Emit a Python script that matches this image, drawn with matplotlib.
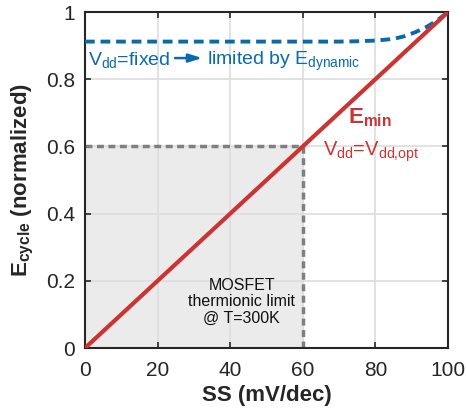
import matplotlib
matplotlib.use("Agg")
import matplotlib.pyplot as plt

fam = "Liberation Sans"
plt.rcParams['font.family'] = [fam, 'DejaVu Sans']
plt.rcParams['mathtext.fontset'] = 'custom'
plt.rcParams['mathtext.rm'] = fam
plt.rcParams['mathtext.it'] = fam
plt.rcParams['mathtext.bf'] = fam + ':bold'

ss = [0, 100]
e_min = [0, 1]
ss_fixed = [0, 20, 40, 60, 70, 75, 80, 85, 88, 91, 94, 97, 100]
e_fixed = [0.912, 0.912, 0.912, 0.912, 0.912, 0.913, 0.915, 0.92, 0.928, 0.94, 0.955, 0.975, 1.0]
ss_limit = 60
e_limit = 0.6
xticks = [0, 20, 40, 60, 80, 100]
yticks = [0, 0.2, 0.4, 0.6, 0.8, 1]

fig = plt.figure(figsize=(4.66, 4.15), dpi=100)
ax = fig.add_axes([0.1824, 0.1614, 0.779, 0.8096])
blue = '#0A6AAE'
red = '#CC3333'
gray = '#7F7F7F'
dark = '#262626'

ax.fill_between([0, ss_limit], 0, e_limit, color='#EBEBEB', zorder=0.5)
ax.plot([0, ss_limit], [e_limit, e_limit], ls=(0, (2, 1.3)), color=gray, lw=2.5, zorder=2)
ax.plot([ss_limit, ss_limit], [0, e_limit], ls=(0, (2, 1.3)), color=gray, lw=2.5, zorder=2)
ax.plot(ss_fixed, e_fixed, ls=(0, (2.5, 1.5)), color=blue, lw=2.8, zorder=3)
ax.plot(ss, e_min, color=red, lw=3, zorder=4)

ax.set_xlim(0, 100)
ax.set_ylim(0, 1)
ax.set_xticks(xticks)
ax.set_yticks(yticks)
ax.set_xticklabels([str(v) for v in xticks])
ax.set_yticklabels(['0', '0.2', '0.4', '0.6', '0.8', '1'])
ax.grid(True, color='#DDDDDD', lw=1.2, zorder=0)
ax.set_axisbelow(True)
ax.tick_params(direction='in', length=4, width=1.2, labelsize=15, colors=dark, labelcolor=dark, top=True, right=True)
ax.tick_params(axis='x', pad=9)
ax.tick_params(axis='y', pad=7)
for s in ax.spines.values():
    s.set_linewidth(1.5)
    s.set_color(dark)

ax.set_xlabel('SS (mV/dec)', fontsize=16, fontweight='bold', color=dark, labelpad=4)
ax.set_ylabel(r'$\mathbf{E_{cycle}}$ (normalized)', fontsize=16, fontweight='bold', color=dark, labelpad=7)

ax.text(0.8, 0.842, r'V$_{\mathrm{dd}}$=fixed', color=blue, fontsize=14, va='baseline', ha='left')
ax.annotate('', xy=(32.3, 0.863), xytext=(24.8, 0.863),
            arrowprops=dict(arrowstyle='-|>,head_length=0.8,head_width=0.25', color=blue, lw=1.8, shrinkA=0, shrinkB=0))
ax.text(33.6, 0.842, r'limited by E$_{\mathrm{dynamic}}$', color=blue, fontsize=14, va='baseline', ha='left')
ax.text(72.5, 0.685, r'$\mathbf{E_{min}}$', color=red, fontsize=16, va='center', ha='left', fontweight='bold')
ax.text(65.5, 0.585, r'V$_{\mathrm{dd}}$=V$_{\mathrm{dd{,}opt}}$', color=red, fontsize=14.5, va='center', ha='left')
ax.text(43.2, 0.137, 'MOSFET\nthermionic limit\n@ T=300K', color='#111111', fontsize=11.5, ha='center', va='center', linespacing=1.1)

fig.savefig('out.png', dpi=100)
